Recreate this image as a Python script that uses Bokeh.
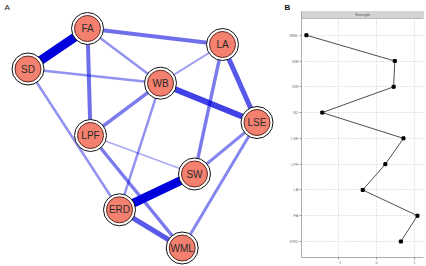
from bokeh.plotting import figure
from bokeh.layouts import row, column
from bokeh.models import Range1d, FixedTicker, Title
from bokeh.core.properties import value
from bokeh.embed import file_html
from bokeh.resources import INLINE

# ---- Panel A: network ----
nodes = ["FA", "LA", "SD", "WB", "LSE", "LPF", "SW", "ERD", "WML"]
node_x = [87, 222, 27.5, 160, 256.5, 90, 194, 119, 181.7]
node_y = [28, 44, 68.5, 82.7, 122, 135, 173.5, 209.3, 247.5]

edge_from = ["FA", "SW", "WB", "LA", "ERD", "FA", "FA", "LA", "LPF", "WB",
             "LSE", "LSE", "SD", "SD", "WB", "FA", "LA", "LPF"]
edge_to = ["SD", "ERD", "LSE", "LSE", "WML", "LPF", "LA", "SW", "WML", "LPF",
           "SW", "WML", "WB", "ERD", "ERD", "WB", "WB", "SW"]
edge_weight = [9, 9, 6, 5, 5, 4, 4, 3.5, 3.5, 3.5, 3, 3, 2.5, 2.5, 2.5, 2.5, 2, 1.5]

# ---- Panel B: strength centrality ----
measures = ["ERD", "FA", "LA", "LPF", "LSE", "SD", "SW", "WB", "WML"]
strength = [0.64, 1.08, -0.37, 0.23, 0.71, -1.44, 0.45, 0.48, -1.86]
x_ticks = [-1, 0, 1]

pos = {n: (x, y) for n, x, y in zip(nodes, node_x, node_y)}
ex0 = [pos[a][0] for a in edge_from]
ey0 = [pos[a][1] for a in edge_from]
ex1 = [pos[b][0] for b in edge_to]
ey1 = [pos[b][1] for b in edge_to]
ewidth = [w * 1.0 for w in edge_weight]
ealpha = [min(1.0, 0.2 + w / 11.0) for w in edge_weight]

pA = figure(width=280, height=266, output_backend="svg", toolbar_location=None,
            x_range=Range1d(0, 280), y_range=Range1d(266, 0),
            x_axis_location=None, y_axis_location=None,
            min_border=0, outline_line_color=None, title_location=None)
pA.grid.visible = False

pA.segment(ex0, ey0, ex1, ey1, line_color="#0000dd", line_width=ewidth,
           line_alpha=ealpha)

pA.scatter(node_x, node_y, size=32, fill_color="white", line_color="#111111",
           line_width=1.0)
pA.scatter(node_x, node_y, size=26, fill_color="#f4806f", line_color="#5a2a20",
           line_width=1.0)
pA.text(node_x, node_y, text=nodes, text_align="center", text_baseline="middle",
        text_font=value("Liberation Sans"), text_font_size="10px",
        text_color="#2a2a2a")
pA.text([4], [2], text=["A"], text_align="left", text_baseline="top",
        text_font=value("Liberation Sans"), text_font_size="8px",
        text_color="#111111")

# right panel
meas_y = list(range(1, len(measures) + 1))
y_lo, y_hi, strip_lo, strip_hi = 0.38, 9.92, 9.65, 9.92
x_lo, x_hi = -1.99, 1.24

title = Title(text="B", align="left", offset=-17, standoff=0,
              text_font_size="8px", text_font_style="bold",
              text_font="Liberation Sans", text_color="#111111")

pB = figure(width=146, height=266, output_backend="svg", toolbar_location=None,
            x_range=Range1d(x_lo, x_hi), y_range=Range1d(y_lo, y_hi),
            min_border_left=21, min_border_right=3, min_border_top=0,
            min_border_bottom=8, outline_line_color=None,
            background_fill_color="white", title=title)
pB.xgrid.ticker = FixedTicker(ticks=x_ticks)
pB.ygrid.ticker = FixedTicker(ticks=meas_y)
pB.grid.grid_line_color = "#bdbdbd"
pB.grid.grid_line_dash = "1 2"
pB.grid.grid_line_width = 0.8

pB.xaxis.ticker = FixedTicker(ticks=x_ticks)
pB.yaxis.ticker = FixedTicker(ticks=meas_y)
pB.yaxis.major_label_overrides = {i: m for i, m in zip(meas_y, measures)}
for ax in (pB.xaxis, pB.yaxis):
    ax.axis_line_color = "#999999"
    ax.axis_line_width = 0.8
    ax.major_tick_line_color = "#999999"
    ax.major_tick_out = 2
    ax.major_tick_in = 0
    ax.minor_tick_line_color = None
    ax.major_label_text_font_size = "4px"
    ax.major_label_text_color = "#777777"
    ax.major_label_text_font = "Liberation Sans"
    ax.major_label_standoff = 1

pB.line(strength, meas_y, line_color="#222222", line_width=0.8)
pB.scatter(strength, meas_y, marker="square", size=3, fill_color="black",
           line_color="black")

pB.quad(left=[x_lo], right=[x_hi], bottom=[strip_lo], top=[strip_hi],
        fill_color="#d4d4d4", line_color="#aaaaaa", line_width=0.8)
pB.text([(x_lo + x_hi) / 2], [(strip_lo + strip_hi) / 2], text=["Strength"],
        text_align="center", text_baseline="middle", text_font_size="4px",
        text_font=value("Liberation Sans"), text_color="#555555")

layout = row(column(pA), column(pB), spacing=0)
open("out.html", "w").write(file_html(layout, INLINE))
